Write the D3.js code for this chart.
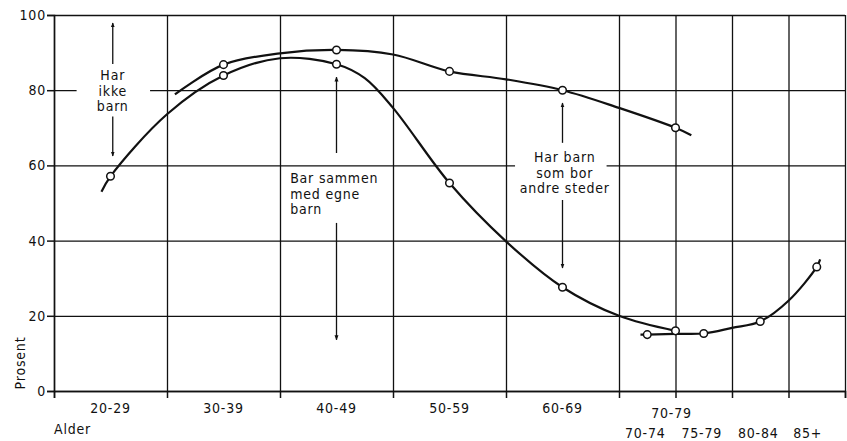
<!DOCTYPE html>
<html>
<head>
<meta charset="utf-8">
<script src="https://cdn.jsdelivr.net/npm/d3@7"></script>
<style>
  body { margin: 0; background: #fff; }
  svg text { font-family: "DejaVu Sans Condensed", "DejaVu Sans", sans-serif; font-size: 14px; letter-spacing: 0.8px; fill: #111; }
  .grid line { stroke: #111; stroke-width: 1.3; }
  .curve { fill: none; stroke: #111; stroke-width: 2.2; }
  .dot { fill: #fff; stroke: #111; stroke-width: 1.5; }
</style>
</head>
<body>
<svg width="847" height="441"></svg>
<script>
// age groups on the x axis (years)
var ageBounds = [20, 30, 40, 50, 60, 70, 75, 80, 85, 90];
var decadeLabels = ["20-29", "30-39", "40-49", "50-59", "60-69", "70-79"];
var decadeMid = [25, 35, 45, 55, 65, 75];
var fiveLabels = ["70-74", "75-79", "80-84", "85+"];
var fiveMid = [72.5, 77.5, 82.5, 87.5];
var yTicks = [0, 20, 40, 60, 80, 100];

// survey points (percent)
var livingWithChildren = [57.1, 83.9, 86.9, 55.3, 27.6, 16];   // Bor sammen med egne barn
var hasChildren = [null, 86.8, 90.7, 85, 80, 70];              // upper curve
var livingWithChildren5 = [15, 15.3, 18.5, 33];                 // 5-year groups

// traced hand-drawn curves (age, percent)
var lowerAges  = [24.2, 25, 30, 35, 40, 45, 47.5, 50, 55, 60, 65, 70, 75];
var lowerCurve = [53, 57.1, 73.6, 83.9, 88.5, 86.9, 83.2, 75.3, 55.3, 39.8, 27.6, 20, 16];
var upperAges  = [30.7, 35, 40, 45, 50, 55, 60, 65, 70, 75, 76.4];
var upperCurve = [78.9, 86.8, 89.8, 90.7, 89.5, 85, 82.9, 80, 75.3, 70, 68];
var fiveAges   = [71.9, 72.5, 75, 77.5, 80, 82.5, 85, 87.5, 87.8];
var fiveCurve  = [15, 15, 15.2, 15.3, 16.8, 18.5, 24, 33, 35];

var svg = d3.select("svg");

var x = d3.scaleLinear().domain([20, 90]).range([54, 845]),
    y = d3.scaleLinear().domain([0, 100]).range([391, 15]);

// arrow head
svg.append("defs").append("marker")
    .attr("id", "head")
    .attr("viewBox", "0 0 10 10")
    .attr("refX", 9).attr("refY", 5)
    .attr("markerWidth", 5).attr("markerHeight", 7)
    .attr("markerUnits", "userSpaceOnUse")
    .attr("orient", "auto")
  .append("path")
    .attr("d", "M0,1L10,5L0,9Z")
    .attr("fill", "#111");

// grid
svg.append("g")
    .attr("class", "grid")
    .attr("transform", "translate(0," + y(0) + ")")
    .call(d3.axisBottom(x).tickValues(ageBounds).tickSize(-(y(0) - y(100))).tickFormat(""))
    .call(function(g) { g.select(".domain").remove(); });

svg.append("g")
    .attr("class", "grid")
    .attr("transform", "translate(" + x(20) + ",0)")
    .call(d3.axisRight(y).tickValues(yTicks).tickSize(x(90) - x(20)).tickFormat(""))
    .call(function(g) { g.select(".domain").remove(); });

// axes
var yAxis = svg.append("g")
    .attr("transform", "translate(" + x(20) + ",0)")
    .call(d3.axisLeft(y).tickValues(yTicks).tickSize(7).tickPadding(1));
var xAxis = svg.append("g")
    .attr("transform", "translate(0," + y(0) + ")")
    .call(d3.axisBottom(x).tickValues(ageBounds).tickSize(7).tickFormat(""));
[yAxis, xAxis].forEach(function(a) {
    a.selectAll("path, line").attr("stroke", "#111").attr("stroke-width", 1.5);
    a.selectAll("text").attr("font-size", null).attr("font-family", null).attr("fill", "#111");
});

// blank out grid behind labels
svg.append("rect").attr("x", x(22.0)).attr("y", y(80) - 3)
    .attr("width", x(28.5) - x(22.0)).attr("height", 6).attr("fill", "#fff");
svg.append("rect").attr("x", x(60.8)).attr("y", y(60) - 3)
    .attr("width", x(68.9) - x(60.8)).attr("height", 6).attr("fill", "#fff");

// curves
var line = d3.line()
    .x(function(d) { return x(d[0]); })
    .y(function(d) { return y(d[1]); })
    .curve(d3.curveCatmullRom);

[[lowerAges, lowerCurve], [upperAges, upperCurve], [fiveAges, fiveCurve]].forEach(function(s) {
    svg.append("path")
        .attr("class", "curve")
        .attr("d", line(d3.zip(s[0], s[1])));
});

// markers
var pts = [];
decadeMid.forEach(function(a, i) {
    pts.push([a, livingWithChildren[i]]);
    if (hasChildren[i] != null) pts.push([a, hasChildren[i]]);
});
fiveMid.forEach(function(a, i) { pts.push([a, livingWithChildren5[i]]); });

svg.selectAll(".dot")
    .data(pts)
  .enter().append("circle")
    .attr("class", "dot")
    .attr("r", 3.8)
    .attr("cx", function(d) { return x(d[0]); })
    .attr("cy", function(d) { return y(d[1]); });

// x labels
svg.selectAll(".dec")
    .data(decadeLabels)
  .enter().append("text")
    .attr("x", function(d, i) { return x(decadeMid[i]) - (i == 5 ? 4 : 0); })
    .attr("y", function(d, i) { return i == 5 ? 413 : 408; })
    .attr("dy", "0.35em")
    .attr("text-anchor", "middle")
    .text(function(d) { return d; });

svg.selectAll(".five")
    .data(fiveLabels)
  .enter().append("text")
    .attr("x", function(d, i) { return x(fiveMid[i]) - (i == 3 ? 9 : 2); })
    .attr("y", 433)
    .attr("dy", "0.35em")
    .attr("text-anchor", "middle")
    .text(function(d) { return d; });

svg.append("text").attr("x", 54).attr("y", 429).attr("dy", "0.35em").text("Alder");
svg.append("text")
    .attr("transform", "translate(20,363) rotate(-90)")
    .attr("dy", "0.35em")
    .attr("text-anchor", "middle")
    .text("Prosent");

// annotations
var notes = [
    {age: 25.2, anchor: "middle", lines: ["Har", "ikke", "barn"], top: 84,
     up: [25.2, 87, 97.9], down: [25.2, 73, 62.5]},
    {age: 40.9, anchor: "start", lines: ["Bar sammen", "med egne", "barn"], top: 56.6,
     up: [45, 63.3, 83.5], down: [45, 44.7, 13.6]},
    {age: 65.2, anchor: "middle", lines: ["Har barn", "som bor", "andre steder"], top: 62.2,
     up: [65, 66, 76.6], down: [65, 50.8, 32.7]}
];

notes.forEach(function(n) {
    var t = svg.append("text")
        .attr("text-anchor", n.anchor)
        .attr("x", x(n.age))
        .attr("y", y(n.top))
        .attr("dy", "0.35em");
    n.lines.forEach(function(l, i) {
        t.append("tspan").attr("x", x(n.age)).attr("dy", i == 0 ? "0.35em" : 15.5).text(l);
    });
    [n.up, n.down].forEach(function(a) {
        svg.append("line")
            .attr("x1", x(a[0])).attr("x2", x(a[0]))
            .attr("y1", y(a[1])).attr("y2", y(a[2]))
            .attr("stroke", "#111").attr("stroke-width", 1.3)
            .attr("marker-end", "url(#head)");
    });
});
</script>
</body>
</html>
